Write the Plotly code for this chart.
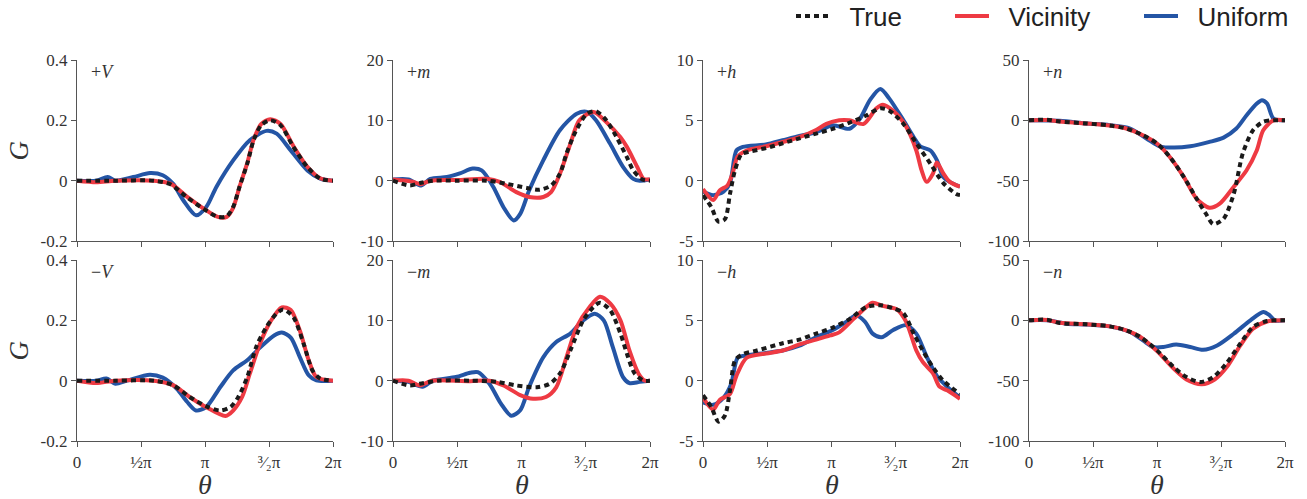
import math
import plotly.graph_objects as go

# ---------------- data (x in units of pi) ----------------
# +V
pV_true_x = [0, 0.3, 0.6, 0.73, 0.856, 0.987, 1.10, 1.17, 1.22, 1.27, 1.33, 1.38, 1.44, 1.51, 1.59, 1.69, 1.80, 1.90, 2.0]
pV_true_y = [0, 0, 0, -0.012, -0.054, -0.093, -0.12, -0.118, -0.087, -0.02, 0.056, 0.134, 0.184, 0.2, 0.184, 0.112, 0.045, 0.007, 0]
pV_vic_x = [0, 0.15, 0.3, 0.6, 0.73, 0.856, 0.987, 1.10, 1.17, 1.22, 1.27, 1.33, 1.38, 1.44, 1.51, 1.59, 1.69, 1.80, 1.90, 2.0]
pV_vic_y = [0, -0.005, 0, 0, -0.01, -0.052, -0.092, -0.12, -0.12, -0.09, -0.02, 0.058, 0.136, 0.188, 0.204, 0.188, 0.115, 0.046, 0.008, 0]
pV_uni_x = [0, 0.15, 0.24, 0.3, 0.44, 0.57, 0.67, 0.75, 0.83, 0.93, 1.01, 1.09, 1.22, 1.35, 1.48, 1.56, 1.67, 1.80, 1.90, 2.0]
pV_uni_y = [0, 0, 0.012, 0, 0.012, 0.025, 0.018, -0.01, -0.065, -0.115, -0.087, -0.02, 0.067, 0.134, 0.165, 0.156, 0.1, 0.034, 0.007, 0]

# -V
mV_true_x = [0, 0.3, 0.6, 0.75, 0.88, 1.01, 1.12, 1.20, 1.26, 1.33, 1.40, 1.48, 1.56, 1.61, 1.69, 1.77, 1.84, 1.90, 2.0]
mV_true_y = [0, 0, 0, -0.015, -0.054, -0.085, -0.099, -0.087, -0.054, 0.012, 0.112, 0.178, 0.223, 0.236, 0.211, 0.123, 0.034, 0.007, 0]
mV_vic_x = [0, 0.15, 0.3, 0.6, 0.75, 0.88, 1.01, 1.16, 1.22, 1.29, 1.35, 1.43, 1.51, 1.60, 1.67, 1.74, 1.81, 1.87, 2.0]
mV_vic_y = [0, -0.008, 0, 0, -0.015, -0.054, -0.088, -0.117, -0.099, -0.054, 0.023, 0.123, 0.195, 0.243, 0.234, 0.167, 0.068, 0.012, 0]
mV_uni_x = [0, 0.15, 0.23, 0.3, 0.39, 0.57, 0.67, 0.78, 0.86, 0.93, 1.01, 1.12, 1.22, 1.33, 1.43, 1.54, 1.60, 1.67, 1.74, 1.81, 1.87, 2.0]
mV_uni_y = [0, 0, 0.007, -0.01, 0, 0.02, 0.01, -0.027, -0.07, -0.099, -0.087, -0.021, 0.034, 0.068, 0.11, 0.15, 0.16, 0.143, 0.079, 0.018, 0.001, 0]

# +m
pm_true_x = [0, 0.13, 0.21, 0.31, 0.5, 0.73, 0.88, 1.04, 1.14, 1.23, 1.30, 1.35, 1.42, 1.51, 1.58, 1.66, 1.74, 1.82, 1.87, 1.94, 2.0]
pm_true_y = [0, -0.8, -0.4, 0, 0, 0, -0.5, -1.2, -1.5, -0.8, 1.2, 4.5, 8.1, 11.1, 11.5, 10.0, 7.2, 3.9, 1.7, 0.2, 0]
pm_vic_x = [0, 0.16, 0.21, 0.29, 0.5, 0.73, 0.83, 0.96, 1.06, 1.17, 1.23, 1.30, 1.38, 1.45, 1.56, 1.66, 1.77, 1.82, 1.90, 1.95, 2.0]
pm_vic_y = [0.2, -0.2, -0.6, 0, 0.1, 0.3, -0.2, -1.9, -2.7, -2.7, -1.9, 1.2, 6.1, 10.0, 11.4, 9.7, 7.2, 5.6, 2.3, 0.3, 0.2]
pm_uni_x = [0, 0.12, 0.22, 0.29, 0.42, 0.52, 0.62, 0.69, 0.78, 0.86, 0.94, 0.99, 1.06, 1.17, 1.30, 1.43, 1.51, 1.58, 1.69, 1.79, 1.87, 1.92, 2.0]
pm_uni_y = [0.2, 0.2, -0.8, 0.3, 0.6, 1.2, 2.0, 1.7, -1.0, -4.4, -6.6, -5.5, -1.6, 3.4, 8.4, 11.1, 11.4, 10.0, 6.1, 2.3, 0.3, 0, 0.2]

# -m
mm_true_x = [0, 0.13, 0.21, 0.35, 0.6, 0.81, 0.96, 1.12, 1.22, 1.30, 1.38, 1.48, 1.56, 1.61, 1.69, 1.77, 1.82, 1.88, 1.95, 2.0]
mm_true_y = [0, -0.8, -0.5, 0, 0, -0.2, -0.8, -1.1, -0.5, 1.2, 5.0, 10.0, 12.2, 12.9, 11.7, 7.8, 4.5, 1.2, 0, 0]
mm_vic_x = [0, 0.12, 0.21, 0.3, 0.6, 0.75, 0.86, 0.99, 1.09, 1.19, 1.27, 1.35, 1.43, 1.53, 1.61, 1.69, 1.77, 1.84, 1.91, 1.96, 2.0]
mm_vic_y = [0, 0, -0.8, 0, -0.1, 0, -0.8, -2.4, -3.0, -2.7, -1.1, 3.9, 8.9, 12.2, 13.9, 12.8, 10.0, 5.0, 1.2, 0, 0]
mm_uni_x = [0, 0.12, 0.23, 0.31, 0.49, 0.6, 0.66, 0.75, 0.84, 0.92, 0.99, 1.06, 1.17, 1.27, 1.38, 1.48, 1.57, 1.64, 1.71, 1.79, 1.84, 1.92, 2.0]
mm_uni_y = [0, -0.2, -1.0, 0, 0.6, 1.3, 1.4, -0.5, -3.8, -5.8, -4.9, -1.0, 3.9, 6.4, 7.8, 10.0, 11.1, 10.0, 5.6, 0.6, -0.4, -0.2, 0]

# +h
ph_true_x = [0, 0.065, 0.12, 0.17, 0.21, 0.25, 0.30, 0.36, 0.49, 0.62, 0.75, 0.88, 1.01, 1.14, 1.27, 1.38, 1.45, 1.56, 1.66, 1.77, 1.87, 1.97, 2.0]
ph_true_y = [-1.2, -2.2, -3.4, -3.2, -1.1, 0.9, 2.2, 2.4, 2.7, 3.1, 3.5, 3.9, 4.3, 4.8, 5.4, 6.0, 5.8, 4.7, 3.1, 1.4, -0.2, -1.1, -1.2]
ph_vic_x = [0, 0.08, 0.13, 0.19, 0.23, 0.27, 0.34, 0.49, 0.62, 0.75, 0.88, 0.96, 1.06, 1.14, 1.25, 1.35, 1.40, 1.48, 1.58, 1.66, 1.70, 1.74, 1.79, 1.82, 1.87, 1.92, 2.0]
ph_vic_y = [-0.7, -1.6, -0.8, -0.4, 0.6, 2.0, 2.5, 2.85, 3.2, 3.6, 4.2, 4.7, 5.0, 5.0, 4.7, 6.0, 6.3, 5.8, 4.5, 2.5, 0.9, -0.1, 0.6, 1.5, 0.6, -0.1, -0.5]
ph_uni_x = [0, 0.08, 0.16, 0.21, 0.26, 0.31, 0.49, 0.62, 0.75, 0.88, 1.01, 1.14, 1.22, 1.30, 1.38, 1.45, 1.56, 1.64, 1.69, 1.77, 1.82, 1.87, 1.92, 2.0]
ph_uni_y = [-0.9, -1.2, -0.9, -0.2, 2.5, 2.8, 3.0, 3.35, 3.7, 4.0, 4.6, 4.3, 5.1, 6.7, 7.6, 6.8, 5.0, 3.6, 2.85, 2.5, 1.7, 0.3, -0.1, -0.5]

# -h
mh_true_x = [0, 0.065, 0.12, 0.17, 0.21, 0.25, 0.31, 0.42, 0.62, 0.75, 0.88, 1.01, 1.14, 1.27, 1.38, 1.48, 1.56, 1.64, 1.71, 1.79, 1.87, 2.0]
mh_true_y = [-1.2, -2.2, -3.4, -2.9, -0.8, 1.7, 2.2, 2.5, 3.1, 3.4, 3.9, 4.4, 5.1, 6.1, 6.25, 6.0, 5.6, 3.9, 2.5, 1.1, 0, -1.1]
mh_vic_x = [0, 0.08, 0.13, 0.21, 0.26, 0.34, 0.49, 0.62, 0.75, 0.88, 0.99, 1.06, 1.17, 1.27, 1.32, 1.40, 1.51, 1.58, 1.66, 1.71, 1.79, 1.84, 1.90, 2.0]
mh_vic_y = [-1.4, -2.4, -1.6, -1.1, 0.4, 1.9, 2.25, 2.5, 3.0, 3.4, 3.75, 4.0, 5.1, 6.1, 6.45, 6.2, 5.9, 4.9, 2.5, 1.55, 0.6, -0.5, -0.8, -1.5]
mh_uni_x = [0, 0.08, 0.16, 0.22, 0.27, 0.34, 0.49, 0.62, 0.75, 0.88, 1.01, 1.12, 1.19, 1.26, 1.32, 1.39, 1.48, 1.58, 1.66, 1.74, 1.82, 1.90, 2.0]
mh_uni_y = [-1.8, -2.0, -1.4, -0.25, 1.9, 2.1, 2.3, 2.5, 2.9, 3.6, 4.2, 4.9, 5.4, 4.9, 3.9, 3.6, 4.2, 4.6, 3.9, 2.0, 0.4, -0.5, -1.4]

# +n
pn_true_x = [0, 0.14, 0.24, 0.45, 0.63, 0.76, 0.89, 1.0, 1.10, 1.21, 1.31, 1.38, 1.44, 1.52, 1.60, 1.67, 1.75, 1.83, 1.91, 2.0]
pn_true_y = [0, 0.5, -1.0, -2.6, -4.3, -6.8, -12.3, -19.2, -30.3, -47, -65, -77, -86, -81.5, -60.8, -27.5, -8.2, -1.2, 0, 0]
pn_vic_x = [0, 0.14, 0.24, 0.45, 0.63, 0.76, 0.89, 1.0, 1.10, 1.21, 1.31, 1.41, 1.49, 1.60, 1.70, 1.78, 1.83, 1.91, 2.0]
pn_vic_y = [0, 0.3, -1.0, -2.6, -4.3, -6.8, -12.3, -19.2, -30.3, -47, -65, -72.4, -69, -55, -41.4, -24.8, -8.2, 0, 0]
pn_uni_x = [0, 0.24, 0.45, 0.63, 0.79, 0.92, 1.02, 1.13, 1.26, 1.41, 1.52, 1.62, 1.70, 1.78, 1.82, 1.86, 1.91, 2.0]
pn_uni_y = [0, -0.4, -2.6, -4.0, -6.8, -15.2, -21.5, -22.6, -21.5, -17.9, -14.3, -6.8, 4.2, 13.9, 16.7, 13.9, 1.4, 0]

# -n
mn_true_x = [0, 0.14, 0.24, 0.45, 0.63, 0.76, 0.87, 1.0, 1.13, 1.23, 1.34, 1.44, 1.54, 1.65, 1.75, 1.86, 2.0]
mn_true_y = [0, 0.5, -2.2, -3.3, -5.0, -8.3, -13.8, -24.9, -38.7, -47, -51.2, -47, -36, -19.4, -5.5, -0.6, 0]
mn_vic_x = [0, 0.14, 0.24, 0.45, 0.63, 0.76, 0.87, 1.0, 1.13, 1.23, 1.35, 1.45, 1.55, 1.65, 1.75, 1.86, 2.0]
mn_vic_y = [0, 0.3, -2.0, -3.3, -5.0, -8.3, -13.8, -25.5, -40, -49, -53, -49, -38, -21, -7, -1, 0]
mn_uni_x = [0, 0.14, 0.29, 0.45, 0.63, 0.79, 0.89, 0.97, 1.05, 1.15, 1.26, 1.36, 1.47, 1.60, 1.73, 1.83, 1.88, 1.92, 2.0]
mn_uni_y = [0, 0, -2.8, -3.5, -5.0, -9.7, -16.6, -22.1, -22.1, -20.0, -22.1, -24.4, -20.8, -11.1, 0, 6.9, 4.2, 0, 0]

panel_labels = ["+<i>V</i>", "+<i>m</i>", "+<i>h</i>", "+<i>n</i>",
                "\u2212<i>V</i>", "\u2212<i>m</i>", "\u2212<i>h</i>", "\u2212<i>n</i>"]
y_ranges = [[-0.2, 0.4], [-10, 20], [-5, 10], [-100, 50]]
y_tickvals = [[-0.2, 0, 0.2, 0.4], [-10, 0, 10, 20], [-5, 0, 5, 10], [-100, -50, 0, 50]]
y_ticktext = [["-0.2", "0", "0.2", "0.4"], ["-10", "0", "10", "20"],
              ["-5", "0", "5", "10"], ["-100", "-50", "0", "50"]]
x_tickvals = [0, 0.5, 1, 1.5, 2]
x_ticktext = ["0", "\u00bd\u03c0", "\u03c0", "\u00b3\u2044\u2082\u03c0", "2\u03c0"]
series_names = ["True", "Vicinity", "Uniform"]

panels = [
    (pV_true_x, pV_true_y, pV_vic_x, pV_vic_y, pV_uni_x, pV_uni_y),
    (pm_true_x, pm_true_y, pm_vic_x, pm_vic_y, pm_uni_x, pm_uni_y),
    (ph_true_x, ph_true_y, ph_vic_x, ph_vic_y, ph_uni_x, ph_uni_y),
    (pn_true_x, pn_true_y, pn_vic_x, pn_vic_y, pn_uni_x, pn_uni_y),
    (mV_true_x, mV_true_y, mV_vic_x, mV_vic_y, mV_uni_x, mV_uni_y),
    (mm_true_x, mm_true_y, mm_vic_x, mm_vic_y, mm_uni_x, mm_uni_y),
    (mh_true_x, mh_true_y, mh_vic_x, mh_vic_y, mh_uni_x, mh_uni_y),
    (mn_true_x, mn_true_y, mn_vic_x, mn_vic_y, mn_uni_x, mn_uni_y),
]

# ---------------- styling / layout ----------------
W, H = 1307, 499
RED = "#EE3A43"
BLUE = "#2455A5"
BLACK = "#1A1A1A"
AXC = "#555555"
SERIF = "Liberation Serif, DejaVu Serif, serif"
SANS = "Liberation Sans, Arial, sans-serif"
GAP = "\u00a0\u00a0"

col_px = [(77, 333), (393, 650), (703, 960), (1029, 1285)]
row_px = [(60, 241), (260, 441)]

fig = go.Figure()
layout = dict(
    width=W, height=H, margin=dict(l=0, r=0, t=0, b=0, autoexpand=False),
    paper_bgcolor="white", plot_bgcolor="white", annotations=[],
)

for i, p in enumerate(panels):
    r, c = divmod(i, 4)
    n = i + 1
    xa = "x" if n == 1 else f"x{n}"
    ya = "y" if n == 1 else f"y{n}"
    tx, ty, vx, vy, ux, uy = p
    first = (i == 0)
    fig.add_trace(go.Scatter(x=ux, y=uy, mode="lines", name=GAP + series_names[2],
                             line=dict(color=BLUE, width=4, shape="spline", smoothing=0.8),
                             xaxis=xa, yaxis=ya, showlegend=first, legend="legend3",
                             hoverinfo="skip"))
    fig.add_trace(go.Scatter(x=vx, y=vy, mode="lines", name=GAP + series_names[1],
                             line=dict(color=RED, width=4, shape="spline", smoothing=0.8),
                             xaxis=xa, yaxis=ya, showlegend=first, legend="legend2",
                             hoverinfo="skip"))
    fig.add_trace(go.Scatter(x=tx, y=ty, mode="lines", name=GAP + series_names[0],
                             line=dict(color=BLACK, width=4, dash="5px,4px", shape="spline", smoothing=0.8),
                             xaxis=xa, yaxis=ya, showlegend=first, legend="legend",
                             hoverinfo="skip"))

    x0, x1 = col_px[c]
    yt, yb = row_px[r]
    key_x = "xaxis" if n == 1 else f"xaxis{n}"
    key_y = "yaxis" if n == 1 else f"yaxis{n}"
    layout[key_x] = dict(
        domain=[x0 / W, x1 / W], range=[0, 2], anchor=ya, automargin=False,
        showline=True, linecolor=AXC, linewidth=1.3, mirror=False,
        ticks="outside", ticklen=5, tickwidth=1.3, tickcolor=AXC,
        tickvals=x_tickvals, ticktext=x_ticktext, showticklabels=(r == 1),
        tickfont=dict(family=SERIF, size=17, color="#333333"),
        showgrid=False, zeroline=False, fixedrange=True,
    )
    layout[key_y] = dict(
        domain=[1 - yb / H, 1 - yt / H], range=y_ranges[c], anchor=xa, automargin=False,
        showline=True, linecolor=AXC, linewidth=1.3, mirror=False,
        ticks="outside", ticklen=5, tickwidth=1.3, tickcolor=AXC,
        tickvals=y_tickvals[c], ticktext=y_ticktext[c],
        tickfont=dict(family=SERIF, size=17, color="#333333"),
        showgrid=False, zeroline=False, fixedrange=True,
    )
    # panel label
    layout["annotations"].append(dict(
        text=panel_labels[i], xref="paper", yref="paper",
        x=(x0 + 12) / W, y=1 - (yt + 12) / H, xanchor="left", yanchor="middle",
        showarrow=False, font=dict(family=SERIF, size=18, color="#333333")))
    if r == 1:
        layout["annotations"].append(dict(
            text="<i>\u03b8</i>", xref="paper", yref="paper",
            x=(x0 + x1) / 2 / W, y=1 - 484 / H, xanchor="center", yanchor="middle",
            showarrow=False, font=dict(family=SERIF, size=28, color="#333333")))
    if c == 0:
        layout["annotations"].append(dict(
            text="<i>G</i>", xref="paper", yref="paper", textangle=-90,
            x=18 / W, y=1 - ((yt + yb) / 2) / H, xanchor="center", yanchor="middle",
            showarrow=False, font=dict(family=SERIF, size=27, color="#333333")))

leg_common = dict(orientation="h", yanchor="middle", xanchor="left",
                  xref="container", yref="container", itemwidth=34,
                  y=1 - 16 / H, bgcolor="rgba(0,0,0,0)", borderwidth=0,
                  font=dict(family=SANS, size=26, color="#222222"))
layout["legend"] = dict(leg_common, x=791 / W)
layout["legend2"] = dict(leg_common, x=950 / W)
layout["legend3"] = dict(leg_common, x=1139 / W)

fig.update_layout(**layout)
fig.write_html("out.html", config={"displayModeBar": False},
               post_script="document.body.style.margin='0';document.body.style.padding='0';")
